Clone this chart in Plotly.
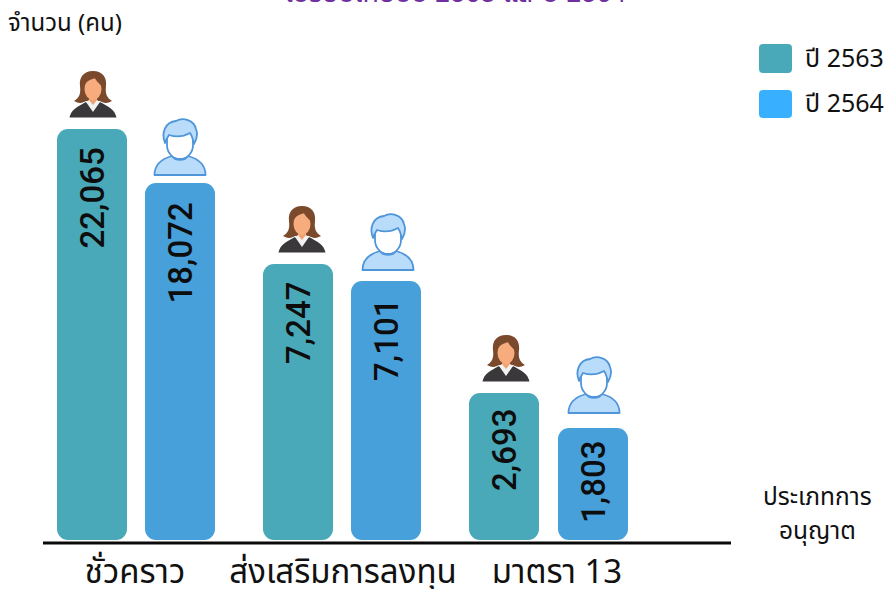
import base64
import plotly.graph_objects as go

# ---------- data ----------
categories = ["ชั่วคราว", "ส่งเสริมการลงทุน", "มาตรา 13"]
years = ["ปี 2563", "ปี 2564"]
labels_2563 = ["22,065", "7,247", "2,693"]
labels_2564 = ["18,072", "7,101", "1,803"]
# The source chart's bar heights are not proportional to its printed values,
# so the heights as drawn are read separately from the printed labels.
drawn_2563 = [414, 279, 150]
drawn_2564 = [360, 262, 115]

# ---------- layout constants ----------
W, H = 886, 589
BOTTOM = 46
Y_TOP = H - BOTTOM
x_2563 = [92, 298, 504]
x_2564 = [180, 386, 593]
group_centres = [135, 343, 557]
BAR_W = 70
BASE = 3
C_2563 = "#4aa9b8"
C_2564 = "#47a0d9"
LEG_C = ["#4aa9b8", "#38b0ff"]
THAI = "Noto Sans Thai, Noto Sans, Open Sans, sans-serif"
NUM = "Roboto, Liberation Sans, sans-serif"

WOMAN = """<svg xmlns='http://www.w3.org/2000/svg' viewBox='0 0 48 48'>
<path d='M24 1C14 1 10 8 11 16C12 24 10 28 5 31C10 34 14 33 17 31L31 31C34 33 38 34 43 31C38 28 36 24 37 16C38 8 34 1 24 1Z' fill='#7b4a2d'/>
<path d='M0.500 47.500C2 40 8 37 17 32L24 37L31 32C40 37 46 40 47.500 47.500Z' fill='#3a383a'/>
<path d='M20 24H28V33L24 37L20 33Z' fill='#f0a272'/>
<ellipse cx='24' cy='19' rx='8.500' ry='11' fill='#f6ac7c'/>
<path d='M17 32L24 42L31 32L28 30L24 35L20 30Z' fill='#f2f2f2'/>
<path d='M14 20C14 12 21 10 26 8C28 13 33 14 34 20C37 11 33 3 24 3C15 3 12 11 14 20Z' fill='#7b4a2d'/>
</svg>"""

MAN = """<svg xmlns='http://www.w3.org/2000/svg' viewBox='0 0 54 58'>
<path d='M1.500 57C1.500 47 8 41 19 38C22 43 32 43 35 38C46 41 52.500 47 52.500 57Z' fill='#b9dcfb' stroke='#4f95da' stroke-width='1.800' stroke-linejoin='round'/>
<path d='M14 27C14 35 20 41 27 41C34 41 40 35 40 27V14H14Z' fill='#ffffff' stroke='#4f95da' stroke-width='1.800'/>
<path d='M12 25C8 15 12 4 23 3C30 -1 41 2 43 11C45 16 44 21 41 26C40 21 39 18 37 15C30 19 22 19 16 17C14 20 13 22 12 25Z' fill='#b9dcfb' stroke='#4f95da' stroke-width='1.800' stroke-linejoin='round'/>
</svg>"""


def uri(svg):
    return "data:image/svg+xml;base64," + base64.b64encode(svg.encode()).decode()


def rounded(x0, x1, y0, y1, r):
    """Rounded rectangle path in page pixels, as paper coordinates."""
    def p(x, y):
        return f"{x / W:.5f},{1 - (y) / Y_TOP:.5f}"
    return (f"M{p(x0 + r, y0)} L{p(x1 - r, y0)} Q{p(x1, y0)} {p(x1, y0 + r)} "
            f"L{p(x1, y1 - r)} Q{p(x1, y1)} {p(x1 - r, y1)} L{p(x0 + r, y1)} "
            f"Q{p(x0, y1)} {p(x0, y1 - r)} L{p(x0, y0 + r)} Q{p(x0, y0)} {p(x0 + r, y0)} Z")


fig = go.Figure()
for name, xs, hs, col, labs in [
    (years[0], x_2563, drawn_2563, C_2563, labels_2563),
    (years[1], x_2564, drawn_2564, C_2564, labels_2564),
]:
    fig.add_bar(x=xs, y=[h - BASE for h in hs], base=[BASE] * 3,
                width=BAR_W, name=name, marker=dict(color=col, line_width=0),
                customdata=labs, hovertemplate="%{customdata}<extra>" + name + "</extra>",
                showlegend=False)

annotations = []
label_offsets = {"22,065": 17, "18,072": 18, "7,247": 16, "7,101": 16, "2,693": 14, "1,803": 11}
for xs, hs, labs in [(x_2563, drawn_2563, labels_2563), (x_2564, drawn_2564, labels_2564)]:
    for x, h, lab in zip(xs, hs, labs):
        annotations.append(dict(x=x, y=h - label_offsets[lab], xref="x", yref="y", text=lab,
                                textangle=-90, showarrow=False, yanchor="top", xanchor="center",
                                font=dict(family=NUM, size=33, color="#0d0d0d", weight=500)))


def page_text(x, y, text, size, color="#111111", family=THAI, anchor="center", weight=None):
    annotations.append(dict(x=x / W, y=1 - y / Y_TOP, xref="paper", yref="paper", text=text,
                            showarrow=False, xanchor=anchor, yanchor="middle",
                            font=dict(family=family, size=size, color=color,
                                      weight=weight if weight else "normal")))


page_text(455, -7, "เปรียบเทียบปี 2563 และปี 2564", 27, "#7030a0", family="Liberation Sans, " + THAI)
page_text(6, 24, "จำนวน (คน)", 24, anchor="left")
page_text(817, 497, "ประเภทการ", 24.5)
page_text(817, 531, "อนุญาต", 24.5)
page_text(803, 59, years[0], 25, anchor="left")
page_text(803, 104, years[1], 25, anchor="left")

shapes = [
    dict(type="line", xref="paper", yref="paper", x0=43 / W, x1=731 / W, y0=0, y1=0,
         line=dict(color="#0a0a0a", width=3)),
    dict(type="path", xref="paper", yref="paper", path=rounded(759, 792, 44, 73, 4),
         fillcolor=LEG_C[0], line_width=0),
    dict(type="path", xref="paper", yref="paper", path=rounded(759, 792, 90, 118, 4),
         fillcolor=LEG_C[1], line_width=0),
]

images = []
woman_pos = [(69, 118), (278, 253), (482, 382)]
man_pos = [(153, 176), (361, 271), (567, 414)]
for (x, bottom) in woman_pos:
    images.append(dict(source=uri(WOMAN), xref="x", yref="y", x=x, y=Y_TOP - bottom + 48,
                       sizex=48, sizey=48, xanchor="left", yanchor="top",
                       sizing="stretch", layer="above"))
for (x, bottom) in man_pos:
    images.append(dict(source=uri(MAN), xref="x", yref="y", x=x, y=Y_TOP - bottom + 58,
                       sizex=54, sizey=58, xanchor="left", yanchor="top",
                       sizing="stretch", layer="above"))

fig.update_layout(
    width=W, height=H, margin=dict(l=0, r=0, t=0, b=BOTTOM, pad=0, autoexpand=False),
    paper_bgcolor="white", plot_bgcolor="white", barmode="overlay", barcornerradius=11,
    xaxis=dict(range=[0, W], showgrid=False, zeroline=False, showline=False, ticks="",
               tickmode="array", tickvals=group_centres, ticktext=categories, automargin=False,
               tickfont=dict(family=THAI, size=33, color="#111111"), ticklabelstandoff=6),
    yaxis=dict(range=[0, Y_TOP], visible=False),
    shapes=shapes, annotations=annotations, images=images, showlegend=False,
)
fig.write_html("out.html", config={"displayModeBar": False},
               post_script="document.body.style.margin='0';document.documentElement.style.overflow='hidden';")
